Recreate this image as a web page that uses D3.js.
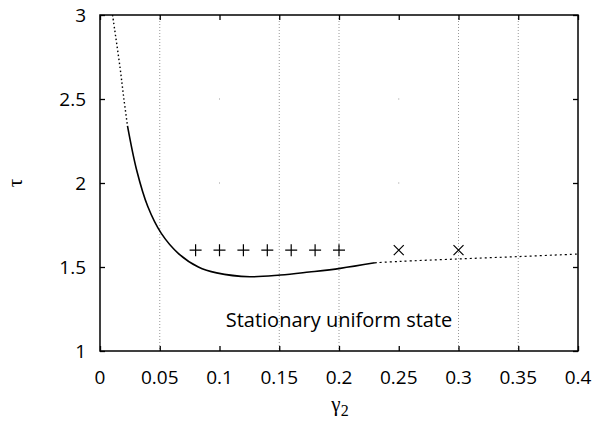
<!DOCTYPE html>
<html>
<head>
<meta charset="utf-8">
<script src="https://cdn.jsdelivr.net/npm/d3@7"></script>
<style>
  body { margin: 0; background: #fff; }
  svg { display: block; }
</style>
</head>
<body>
<svg id="canvas"></svg>
<script>
let width = 602, height = 426

// curve
const solidG   = [0.023, 0.0307, 0.040, 0.0513, 0.0657, 0.0823, 0.0976, 0.1255, 0.151, 0.175, 0.201, 0.230]
const solidTau = [2.34, 2.076, 1.86, 1.70, 1.58, 1.50, 1.465, 1.442, 1.452, 1.47, 1.492, 1.525]
const upperG   = [0.0105, 0.0167, 0.020, 0.023]
const upperTau = [3.0, 2.69, 2.5, 2.34]
const lowerG   = [0.230, 0.25, 0.3, 0.35, 0.4]
const lowerTau = [1.525, 1.533, 1.548, 1.562, 1.577]

const plusG  = [0.08, 0.1, 0.12, 0.14, 0.16, 0.18, 0.2]
const crossG = [0.25, 0.3]
const markTau = 1.6

const xTicks = [0, 0.05, 0.1, 0.15, 0.2, 0.25, 0.3, 0.35, 0.4]
const yTicks = [1, 1.5, 2, 2.5, 3]
const gridX = [0.05, 0.15, 0.2, 0.3, 0.35]
const gridDotsX = [0.1, 0.25]

let svg = d3.select('#canvas').attr("width", width).attr("height", height)

let x = d3.scaleLinear().domain([0, 0.4]).range([100, 578])
let y = d3.scaleLinear().domain([1, 3]).range([351, 15])

// grid
svg.selectAll(".grid").data(gridX).enter().append("line")
  .attr("x1", d => x(d)).attr("x2", d => x(d))
  .attr("y1", y(3)).attr("y2", y(1))
  .style("stroke", "#999").style("stroke-width", 1).style("stroke-dasharray", "1,2")
svg.selectAll(".gdot").data(gridDotsX.flatMap(g => [[g, 2], [g, 2.5]])).enter().append("rect")
  .attr("x", d => x(d[0]) - 0.5).attr("y", d => y(d[1]) - 0.5)
  .attr("width", 1).attr("height", 1).style("fill", "#999")

// axes with inward ticks on all sides
svg.append("g").attr("transform", `translate(0,${y(1)})`)
  .call(d3.axisTop(x).tickValues(xTicks).tickSize(5).tickFormat(""))
svg.append("g").attr("transform", `translate(0,${y(3)})`)
  .call(d3.axisBottom(x).tickValues(xTicks).tickSize(5).tickFormat(""))
svg.append("g").attr("transform", `translate(${x(0)},0)`)
  .call(d3.axisRight(y).tickValues(yTicks).tickSize(5).tickFormat(""))
svg.append("g").attr("transform", `translate(${x(0.4)},0)`)
  .call(d3.axisLeft(y).tickValues(yTicks).tickSize(5).tickFormat(""))
svg.selectAll(".domain").remove()
svg.selectAll(".tick line").style("stroke", "#000").style("stroke-width", 1.3)

svg.append("rect")
  .attr("x", x(0)).attr("y", y(3))
  .attr("width", x(0.4) - x(0)).attr("height", y(1) - y(3))
  .style("fill", "none").style("stroke", "#000").style("stroke-width", 1.5)

// tick labels
svg.selectAll(".xl").data(xTicks).enter().append("text")
  .attr("x", d => x(d)).attr("y", 384)
  .attr("text-anchor", "middle")
  .style("font-family", "Open Sans").style("font-size", "19px")
  .text(d => d)
svg.selectAll(".yl").data(yTicks).enter().append("text")
  .attr("x", 86).attr("y", d => y(d) + 7)
  .attr("text-anchor", "end")
  .style("font-family", "Open Sans").style("font-size", "19px")
  .text(d => d)

// axis titles
let gl = svg.append("text").attr("x", 340).attr("y", 411)
  .attr("text-anchor", "middle")
  .style("font-family", "Liberation Serif").style("font-size", "21px")
gl.append("tspan").text("γ")
gl.append("tspan").attr("dy", 5).style("font-size", "16px").text("2")

svg.append("text")
  .attr("transform", "translate(22,183) rotate(-90)")
  .attr("text-anchor", "middle")
  .style("font-family", "Liberation Serif").style("font-size", "21px")
  .text("τ")

// curve
let line = d3.line().x(d => x(d[0])).y(d => y(d[1])).curve(d3.curveCatmullRom.alpha(0.5))
svg.append("path").datum(solidG.map((g, i) => [g, solidTau[i]]))
  .attr("d", line).style("fill", "none").style("stroke", "#000").style("stroke-width", 1.6)
svg.append("path").datum(upperG.map((g, i) => [g, upperTau[i]]))
  .attr("d", line).style("fill", "none").style("stroke", "#000")
  .style("stroke-width", 1.4).style("stroke-dasharray", "1.5,2.5")
svg.append("path").datum(lowerG.map((g, i) => [g, lowerTau[i]]))
  .attr("d", line).style("fill", "none").style("stroke", "#000")
  .style("stroke-width", 1.2).style("stroke-dasharray", "2,3")

// markers
let s = 6
svg.selectAll(".plus").data(plusG).enter().append("path")
  .attr("d", d => `M${x(d) - s},${y(markTau)}h${2 * s}M${x(d)},${y(markTau) - s}v${2 * s}`)
  .style("stroke", "#000").style("stroke-width", 1.2)
svg.selectAll(".cross").data(crossG).enter().append("path")
  .attr("d", d => `M${x(d) - 5},${y(markTau) - 5}l10,10M${x(d) + 5},${y(markTau) - 5}l-10,10`)
  .style("stroke", "#000").style("stroke-width", 1.2)

svg.append("text")
  .attr("x", 339).attr("y", 327)
  .attr("text-anchor", "middle")
  .style("font-family", "Open Sans").style("font-size", "20px")
  .text("Stationary uniform state")
</script>
</body>
</html>
